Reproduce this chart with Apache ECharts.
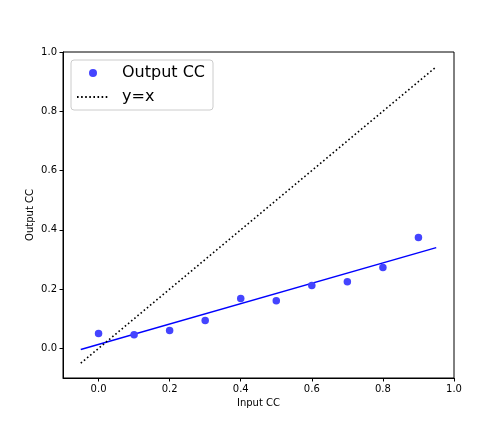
<!DOCTYPE html>
<html><head><meta charset="utf-8">
<script src="https://cdn.jsdelivr.net/npm/echarts@6/dist/echarts.min.js"></script>
<style>html,body{margin:0;padding:0;background:#fff}#c{width:504px;height:432px}</style>
</head><body><div id="c"></div>
<script>
var inputCC = [0.0, 0.1, 0.2, 0.3, 0.4, 0.5, 0.6, 0.7, 0.8, 0.9];
var outputCC = [0.050, 0.046, 0.060, 0.094, 0.168, 0.161, 0.212, 0.225, 0.273, 0.374];
var fitX = [-0.05, 0.95];
var fitY = [-0.004, 0.340];
var identX = [-0.05, 0.95];
var identY = [-0.05, 0.95];
var tickVals = [0, 0.2, 0.4, 0.6, 0.8, 1.0];

var font = 'DejaVu Sans';
var chart = echarts.init(document.getElementById('c'));
chart.setOption({
  animation: false,
  backgroundColor: '#fff',
  textStyle: {fontFamily: font},
  grid: {left: 63, right: 50, top: 52, bottom: 54, show: true, borderColor: '#000', borderWidth: 1},
  legend: {
    left: 71, top: 60, orient: 'vertical',
    data: [
      {name: 'Output CC', icon: 'circle', itemStyle: {color: '#4444ff', opacity: 1}},
      {name: 'y=x', itemStyle: {opacity: 0}}
    ],
    itemWidth: 32, itemHeight: 8, itemGap: 8,
    textStyle: {fontFamily: font, fontSize: 16, color: '#000', padding: [0, 0, 0, 8]},
    borderColor: '#ccc', borderWidth: 1, borderRadius: 3,
    padding: [5, 8, 5, 5], backgroundColor: 'rgba(255,255,255,0.8)'
  },
  xAxis: {
    type: 'value', min: -0.1, max: 1.0,
    name: 'Input CC', nameLocation: 'middle', nameGap: 20, nameMoveOverlap: false,
    nameTextStyle: {fontFamily: font, fontSize: 10, color: '#000'},
    axisLine: {show: true, onZero: false, lineStyle: {color: '#000'}},
    axisTick: {show: true, length: 3.5, lineStyle: {color: '#000'}, customValues: tickVals},
    axisLabel: {fontFamily: font, fontSize: 10, color: '#000', margin: 6, customValues: tickVals,
      formatter: function(v){return v.toFixed(1);}},
    splitLine: {show: false}
  },
  yAxis: {
    type: 'value', min: -0.1, max: 1.0,
    name: 'Output CC', nameLocation: 'middle', nameGap: 28, nameRotate: 90, nameMoveOverlap: false,
    nameTextStyle: {fontFamily: font, fontSize: 10, color: '#000'},
    axisLine: {show: true, onZero: false, lineStyle: {color: '#000'}},
    axisTick: {show: true, length: 3.5, lineStyle: {color: '#000'}, customValues: tickVals},
    axisLabel: {fontFamily: font, fontSize: 10, color: '#000', margin: 6, customValues: tickVals,
      formatter: function(v){return v.toFixed(1);}},
    splitLine: {show: false}
  },
  series: [
    {
      name: 'Output CC', type: 'scatter', symbolSize: 7.5,
      itemStyle: {color: '#4444ff', opacity: 1},
      data: inputCC.map(function(x, i){return [x, outputCC[i]];}), z: 3
    },
    {
      name: 'fit', type: 'line', symbol: 'none',
      lineStyle: {color: '#0000ff', width: 1.5},
      data: fitX.map(function(x, i){return [x, fitY[i]];})
    },
    {
      name: 'y=x', type: 'line', symbol: 'none',
      itemStyle: {color: '#000'},
      lineStyle: {color: '#000', width: 1.6, type: [1.6, 2.5]},
      data: identX.map(function(x, i){return [x, identY[i]];})
    }
  ]
});
</script></body></html>
